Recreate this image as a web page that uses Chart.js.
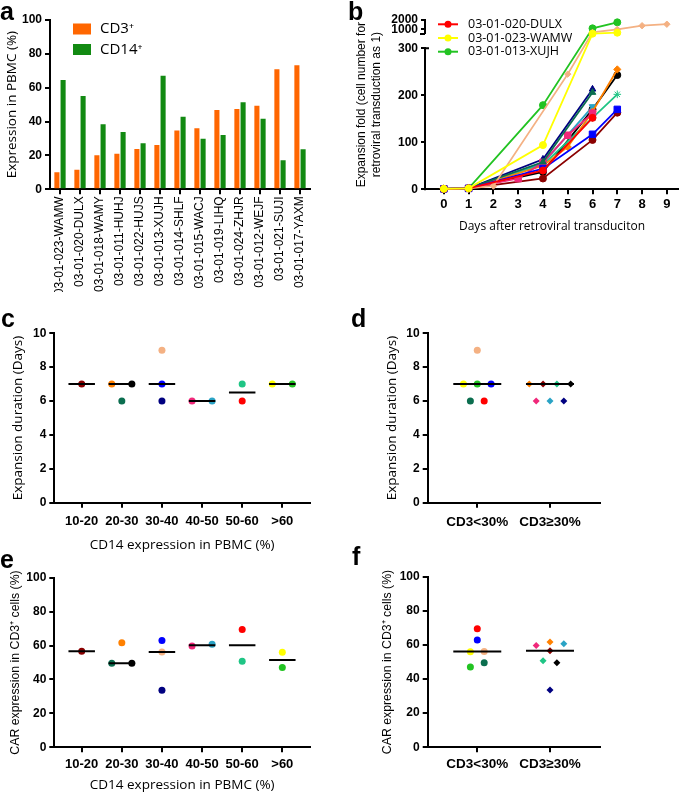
<!DOCTYPE html>
<html>
<head>
<meta charset="utf-8">
<script src="https://cdn.jsdelivr.net/npm/chart.js@4.4.1/dist/chart.umd.min.js"></script>
<style>
    body { margin: 0; background: #fff; width: 685px; height: 792px; position: relative; overflow: hidden; }
    .panel { position: absolute; }
    .tag { position: absolute; font: bold 25px "Liberation Sans", Arial, sans-serif; line-height: 25px; color: #000; }
</style>
</head>
<body>
<div class="panel" style="left:0;top:0;width:345px;height:292px"><canvas id="chartA"></canvas></div>
<div class="panel" style="left:345px;top:0;width:340px;height:240px"><canvas id="chartB"></canvas></div>
<div class="panel" style="left:0;top:300px;width:345px;height:260px"><canvas id="chartC"></canvas></div>
<div class="panel" style="left:345px;top:300px;width:340px;height:260px"><canvas id="chartD"></canvas></div>
<div class="panel" style="left:0;top:540px;width:345px;height:252px"><canvas id="chartE"></canvas></div>
<div class="panel" style="left:345px;top:540px;width:340px;height:252px"><canvas id="chartF"></canvas></div>
<div class="tag" style="left:0;top:-1px">a</div>
<div class="tag" style="left:348px;top:-1px">b</div>
<div class="tag" style="left:1px;top:306px">c</div>
<div class="tag" style="left:351px;top:306px">d</div>
<div class="tag" style="left:0;top:547px">e</div>
<div class="tag" style="left:352px;top:544px">f</div>
<script>
// ---- data ----
const patients = ['03-01-023-WAMW', '03-01-020-DULX', '03-01-018-WAMY', '03-01-011-HUHJ', '03-01-022-HUJS',
    '03-01-013-XUJH', '03-01-014-SHLF', '03-01-015-WACJ', '03-01-019-LIHQ', '03-01-024-ZHJR',
    '03-01-012-WEJF', '03-01-021-SUJI', '03-01-017-YAXM'];
const cd3Pct  = [10, 11.6, 20.1, 21, 23.8, 26.2, 34.8, 36, 46.9, 47.4, 49.4, 70.9, 73.2];
const cd14Pct = [64.6, 55.1, 38.4, 33.9, 27.2, 67.1, 42.9, 29.8, 32.1, 51.4, 41.7, 17.1, 23.6];
const expansionDays = [7, 6, 9, 7, 6, 7, 6, 7, 6, 7, 6, 7, 7];
const carPct = [56, 69.5, 56.2, 62.9, 49.5, 47, 59.7, 61.7, 33.6, 50.7, 60.7, 56.6, 49.5];

// expansion fold per day (days 0..9), null = no count that day
const days = [0, 1, 2, 3, 4, 5, 6, 7, 8, 9];
const foldWAMW = [1, 2, null, null, 94, null, 540, 645, null, null];
const foldDULX = [1, 2, null, null, 40, null, 152, null, null, null];
const foldWAMY = [1, 2, 7, null, null, 245, 680, 1000, 1390, 1550];
const foldHUHJ = [1, 2, null, null, 44, null, 117, 170, null, null];
const foldHUJS = [1, 2, null, null, 58, null, 206, null, null, null];
const foldXUJH = [1, 2, null, null, 179, null, 1110, 1750, null, null];
const foldSHLF = [1, 2, null, 23, 57, 115, 162, null, null, null];
const foldWACJ = [1, 2, null, null, 50, 90, 165, 255, null, null];
const foldLIHQ = [1, 2, null, null, 64, null, 213, null, null, null];
const foldZHJR = [1, 2, null, null, 52, null, 152, 202, null, null];
const foldWEJF = [1, 2, null, null, 55, null, 176, null, null, null];
const foldSUJI = [1, 2, null, null, 23, null, 105, 163, null, null];
const foldYAXM = [1, 2, null, null, 37, null, 170, 243, null, null];
const foldSeries = [foldWAMW, foldDULX, foldWAMY, foldHUHJ, foldHUJS, foldXUJH, foldSHLF,
    foldWACJ, foldLIHQ, foldZHJR, foldWEJF, foldSUJI, foldYAXM];
const legendPatients = ['03-01-020-DULX', '03-01-023-WAMW', '03-01-013-XUJH'];

const yTicksA = [0, 20, 40, 60, 80, 100];
const yTicksB = [0, 100, 200, 300, 1000, 2000];
const yTicksDays = [0, 2, 4, 6, 8, 10];
const yTicksCar = [0, 20, 40, 60, 80, 100];
const cd14Bins = ['10-20', '20-30', '30-40', '40-50', '50-60', '>60'];
const cd14Edges = [20, 30, 40, 50, 60];
const cd3Groups = ['CD3<30%', 'CD3\u226530%'];
const cd3Cutoff = 30;

// ---- styles ----
const TICK_FAMILY = '"Liberation Sans", Arial, sans-serif';
const TEXT_FAMILY = '"Open Sans", "Noto Sans", sans-serif';
const ORANGE = '#ff6600';
const GREEN = '#128a12';
const patientColors = ['#ffff00', '#ff0000', '#f4b183', '#0000ff', '#0b6e4f', '#22c322', '#f0287a',
    '#ff8000', '#000080', '#1fc585', '#2aa3c5', '#8b0000', '#000000'];
const lineMarkers = ['circle', 'circle', 'rectRot', 'rect', 'triangle', 'circle', 'rect',
    'rectRot', 'triangle', 'star', 'triangle', 'circle', 'circle'];
const markerRadius = [3.5, 3.5, 3.2, 4.6, 3.8, 3.5, 4.6, 3.6, 3.8, 3.8, 3.8, 3.5, 3.5];
const markerRotation = [0, 0, 0, 0, 0, 0, 0, 0, 0, 0, 180, 0, 0];
// left-to-right order of tied points in the dot plots
const dotOrder = ['WAMW', 'XUJH', 'HUHJ', 'WAMY', 'HUJS', 'DULX', 'SHLF', 'WACJ', 'SUJI', 'ZHJR', 'WEJF', 'LIHQ', 'YAXM']
    .map(code => patients.findIndex(p => p.endsWith(code)));

// piecewise map of panel b's broken y axis: [value, fraction of height]
const BREAK_MAP = [[0, 0], [300, 0.833], [500, 0.917], [2000, 1]];

Chart.defaults.animation = false;
Chart.defaults.color = '#000';

// ---- helpers ----
function axis(isX, size, tickSize, tickPad) {
    return {
        grid: { drawOnChartArea: false, color: '#000', lineWidth: 2, tickLength: 5, offset: false },
        border: { color: '#000', width: 2 },
        ticks: { color: '#000', font: { family: TICK_FAMILY, weight: 'bold', size: tickSize }, padding: tickPad },
        afterFit: s => { if (isX) s.height = size; else s.width = size; }
    };
}

function fixedTicks(values) {
    return scale => { scale.ticks = values.map(v => ({ value: v })); };
}

function axisTitle(text, size, pad, lineHeight, family) {
    return { display: true, text: text, color: '#000', padding: pad,
        font: { family: family || TEXT_FAMILY, size: size, lineHeight: lineHeight || 1.2 } };
}

function median(arr) {
    const s = arr.slice().sort((a, b) => a - b);
    const m = Math.floor(s.length / 2);
    return s.length % 2 ? s[m] : (s[m - 1] + s[m]) / 2;
}

// spread points of one group that share (nearly) the same value
function jitterX(groups, values, step, tol) {
    const xs = new Array(values.length);
    const nGroups = Math.max(...groups) + 1;
    for (let g = 0; g < nGroups; g++) {
        const members = dotOrder.filter(i => groups[i] === g).sort((a, b) => values[a] - values[b]);
        const clusters = [];
        members.forEach(i => {
            const last = clusters[clusters.length - 1];
            if (last && values[i] - values[last[last.length - 1]] <= tol) last.push(i);
            else clusters.push([i]);
        });
        clusters.forEach(c => {
            c.sort((a, b) => dotOrder.indexOf(a) - dotOrder.indexOf(b));
            c.forEach((i, k) => { xs[i] = g + (k - (c.length - 1) / 2) * step; });
        });
    }
    return xs;
}

// ---- panel a: grouped bars ----
const barLegend = {
    id: 'barLegend',
    afterDraw(chart) {
        const ctx = chart.ctx;
        const ca = chart.chartArea;
        ctx.save();
        chart.data.datasets.forEach((ds, i) => {
            const y = ca.top + 9 + i * 20.5;
            ctx.fillStyle = ds.backgroundColor;
            ctx.fillRect(ca.left + 23, y - 5.5, 18, 11);
            ctx.fillStyle = '#000';
            ctx.font = '15px ' + TEXT_FAMILY;
            ctx.textBaseline = 'middle';
            ctx.fillText(ds.label, ca.left + 50, y);
        });
        ctx.restore();
    }
};

const scalesA = {
    x: axis(true, 102.7, 12, 2),
    y: axis(false, 50, 12, 3)
};
scalesA.x.ticks.font = { family: TICK_FAMILY, size: 12 };
scalesA.x.ticks.maxRotation = 90;
scalesA.x.ticks.minRotation = 90;
scalesA.x.ticks.autoSkip = false;
scalesA.y.min = 0;
scalesA.y.max = 100;
scalesA.y.afterBuildTicks = fixedTicks(yTicksA);
scalesA.y.title = axisTitle('Expression in PBMC (%)', 13.5, { top: 4 });

new Chart(document.getElementById('chartA'), {
    type: 'bar',
    data: {
        labels: patients,
        datasets: [
            { label: 'CD3\u207A', data: cd3Pct, backgroundColor: ORANGE, categoryPercentage: 0.62, barPercentage: 0.82 },
            { label: 'CD14\u207A', data: cd14Pct, backgroundColor: GREEN, categoryPercentage: 0.62, barPercentage: 0.82 }
        ]
    },
    options: {
        responsive: true,
        maintainAspectRatio: false,
        layout: { padding: { left: 0, top: 20, right: 35, bottom: 0 } },
        plugins: { legend: { display: false }, tooltip: { enabled: false } },
        scales: scalesA
    },
    plugins: [barLegend]
});

// ---- panel b: growth curves on a broken y axis ----
function breakFraction(v) {
    for (let k = 1; k < BREAK_MAP.length; k++) {
        const [v0, f0] = BREAK_MAP[k - 1];
        const [v1, f1] = BREAK_MAP[k];
        if (v <= v1 || k === BREAK_MAP.length - 1) return f0 + (v - v0) / (v1 - v0) * (f1 - f0);
    }
    return 0;
}
function breakValue(f) {
    for (let k = 1; k < BREAK_MAP.length; k++) {
        const [v0, f0] = BREAK_MAP[k - 1];
        const [v1, f1] = BREAK_MAP[k];
        if (f <= f1 || k === BREAK_MAP.length - 1) return v0 + (f - f0) / (f1 - f0) * (v1 - v0);
    }
    return 0;
}

class BrokenLinearScale extends Chart.LinearScale {
    getPixelForValue(value) {
        if (value === null || value === undefined) return NaN;
        return this.getPixelForDecimal(breakFraction(value));
    }
    getValueForPixel(pixel) {
        return breakValue(this.getDecimalForPixel(pixel));
    }
}
BrokenLinearScale.id = 'brokenLinear';
BrokenLinearScale.defaults = Chart.LinearScale.defaults;
Chart.register(BrokenLinearScale);

const brokenAxis = {
    id: 'brokenAxis',
    afterDraw(chart) {
        const ctx = chart.ctx;
        const y = chart.scales.y;
        const x = Math.round(chart.chartArea.left) - 1;
        ctx.save();
        ctx.strokeStyle = '#000';
        ctx.lineWidth = 2;
        ctx.beginPath();
        ctx.moveTo(x, y.getPixelForValue(0) + 1);
        ctx.lineTo(x, y.getPixelForValue(300) - 1);
        ctx.moveTo(x, y.getPixelForValue(300));
        ctx.lineTo(x + 4, y.getPixelForValue(300));
        ctx.moveTo(x, y.getPixelForValue(500));
        ctx.lineTo(x, y.getPixelForValue(2000) - 1);
        ctx.moveTo(x - 5, y.getPixelForValue(500));
        ctx.lineTo(x, y.getPixelForValue(500));
        ctx.stroke();
        ctx.restore();
    }
};

const lineLegend = {
    id: 'lineLegend',
    afterDraw(chart) {
        const ctx = chart.ctx;
        ctx.save();
        legendPatients.forEach((name, k) => {
            const i = patients.indexOf(name);
            const ds = chart.data.datasets[i];
            const y = 24.3 + k * 13.7;
            ctx.strokeStyle = ds.borderColor;
            ctx.lineWidth = 2;
            ctx.beginPath();
            ctx.moveTo(93, y);
            ctx.lineTo(113, y);
            ctx.stroke();
            ctx.fillStyle = ds.borderColor;
            ctx.beginPath();
            ctx.arc(103, y, 3.5, 0, Math.PI * 2);
            ctx.fill();
            ctx.fillStyle = '#000';
            ctx.font = '12.5px ' + TEXT_FAMILY;
            ctx.textBaseline = 'middle';
            ctx.fillText(name, 123, y);
        });
        ctx.restore();
    }
};

const scalesB = {
    x: axis(true, 50.7, 13, 2),
    y: axis(false, 81, 12, 3)
};
scalesB.x.type = 'linear';
scalesB.x.min = -0.72;
scalesB.x.max = 9.45;
scalesB.x.afterBuildTicks = fixedTicks(days);
scalesB.x.title = axisTitle('Days after retroviral transduciton', 12, { bottom: 5.8 });
scalesB.y.type = 'brokenLinear';
scalesB.y.min = 0;
scalesB.y.max = 2000;
scalesB.y.border = { display: false };
scalesB.y.afterBuildTicks = fixedTicks(yTicksB);
scalesB.y.ticks.autoSkip = false;
scalesB.y.ticks.callback = v => String(v);
scalesB.y.title = axisTitle(['Expansion fold (cell number for', 'retroviral transduction as 1)'], 12,
    { top: 9.5 }, 1.25, TICK_FAMILY);

new Chart(document.getElementById('chartB'), {
    type: 'line',
    data: {
        datasets: patients.map((name, i) => ({
            label: name,
            data: days.map((d, k) => ({ x: d, y: foldSeries[i][k] })).filter(p => p.y !== null),
            borderColor: patientColors[i],
            backgroundColor: patientColors[i],
            borderWidth: 1.8,
            pointStyle: lineMarkers[i],
            pointRadius: markerRadius[i],
            pointRotation: markerRotation[i],
            pointBorderWidth: 1,
            tension: 0,
            clip: false
        }))
    },
    options: {
        responsive: true,
        maintainAspectRatio: false,
        layout: { padding: { left: 0, top: 20, right: 7, bottom: 0 } },
        plugins: { legend: { display: false }, tooltip: { enabled: false } },
        scales: scalesB
    },
    plugins: [brokenAxis, lineLegend]
});

// ---- panels c-f: dot plots with median lines ----
const cd14Group = cd14Pct.map(v => cd14Edges.filter(e => v >= e).length);
const cd3Group = cd3Pct.map(v => (v < cd3Cutoff ? 0 : 1));

function dotPanel(id, p) {
    const xs = jitterX(p.groups, p.values, p.step, p.tol);
    const points = p.values.map((v, i) => ({ x: xs[i], y: v }));
    const medians = p.labels.map((_, g) => {
        const m = median(p.values.filter((v, i) => p.groups[i] === g));
        return {
            type: 'line',
            data: [{ x: g - 0.33, y: m }, { x: g + 0.33, y: m }],
            borderColor: '#000',
            borderWidth: 2,
            pointRadius: 0,
            order: -1
        };
    });
    const scales = {
        x: axis(true, p.height - p.area.bottom, p.xTickSize, p.xTickPad),
        y: axis(false, p.area.left, 12, 3)
    };
    scales.x.type = 'linear';
    scales.x.min = p.xMin;
    scales.x.max = p.xMax;
    scales.x.afterBuildTicks = fixedTicks(p.labels.map((_, g) => g));
    scales.x.ticks.callback = v => p.labels[v];
    if (p.xTitle) scales.x.title = axisTitle(p.xTitle, 13.5, { bottom: p.xTitlePad }, p.xTitleLH);
    scales.y.min = 0;
    scales.y.max = p.yTicks[p.yTicks.length - 1];
    scales.y.afterBuildTicks = fixedTicks(p.yTicks);
    scales.y.title = axisTitle(p.yTitle, p.yTitleSize, { top: p.yTitlePad }, 1.2, p.yTitleFamily);

    new Chart(document.getElementById(id), {
        type: 'scatter',
        data: {
            datasets: medians.concat([{
                data: points,
                pointBackgroundColor: patientColors,
                pointBorderColor: patientColors,
                pointStyle: p.groups.map(g => p.markers[g]),
                pointRadius: 3.5,
                pointBorderWidth: 0,
                order: 0
            }])
        },
        options: {
            responsive: true,
            maintainAspectRatio: false,
            layout: { padding: { left: 0, top: p.area.top, right: p.width - p.area.right, bottom: 0 } },
            plugins: { legend: { display: false }, tooltip: { enabled: false } },
            scales: scales
        }
    });
}

dotPanel('chartC', {
    width: 345, height: 260, area: { left: 54.3, top: 33.3, right: 310, bottom: 202.7 },
    groups: cd14Group, values: expansionDays, labels: cd14Bins, step: 0.5, tol: 0.3,
    markers: ['circle', 'circle', 'circle', 'circle', 'circle', 'circle'],
    xMin: -0.683, xMax: 5.69, xTickSize: 13, xTickPad: 6,
    xTitle: 'CD14 expression in PBMC (%)', xTitlePad: 7,
    yTicks: yTicksDays, yTitle: 'Expansion duration (Days)', yTitleSize: 13.5, yTitlePad: 10
});

dotPanel('chartD', {
    width: 340, height: 260, area: { left: 82.7, top: 33.3, right: 255, bottom: 202.7 },
    groups: cd3Group, values: expansionDays, labels: cd3Groups, step: 0.19, tol: 0.3,
    markers: ['circle', 'rectRot'],
    xMin: -0.682, xMax: 1.688, xTickSize: 13.5, xTickPad: 6,
    yTicks: yTicksDays, yTitle: 'Expansion duration (Days)', yTitleSize: 13.5, yTitlePad: 39
});

dotPanel('chartE', {
    width: 345, height: 252, area: { left: 54.3, top: 37.7, right: 310, bottom: 207.3 },
    groups: cd14Group, values: carPct, labels: cd14Bins, step: 0.5, tol: 2.6,
    markers: ['circle', 'circle', 'circle', 'circle', 'circle', 'circle'],
    xMin: -0.683, xMax: 5.69, xTickSize: 13, xTickPad: 4,
    xTitle: 'CD14 expression in PBMC (%)', xTitlePad: 0.5, xTitleLH: 1,
    yTicks: yTicksCar, yTitle: 'CAR expression in CD3\u207A cells (%)', yTitleSize: 12.3, yTitlePad: 8,
    yTitleFamily: TICK_FAMILY
});

dotPanel('chartF', {
    width: 340, height: 252, area: { left: 82.7, top: 36.7, right: 255, bottom: 207.3 },
    groups: cd3Group, values: carPct, labels: cd3Groups, step: 0.19, tol: 2.6,
    markers: ['circle', 'rectRot'],
    xMin: -0.682, xMax: 1.688, xTickSize: 13.5, xTickPad: 4,
    yTicks: yTicksCar, yTitle: 'CAR expression in CD3\u207A cells (%)', yTitleSize: 12.3, yTitlePad: 35,
    yTitleFamily: TICK_FAMILY
});
</script>
</body>
</html>
